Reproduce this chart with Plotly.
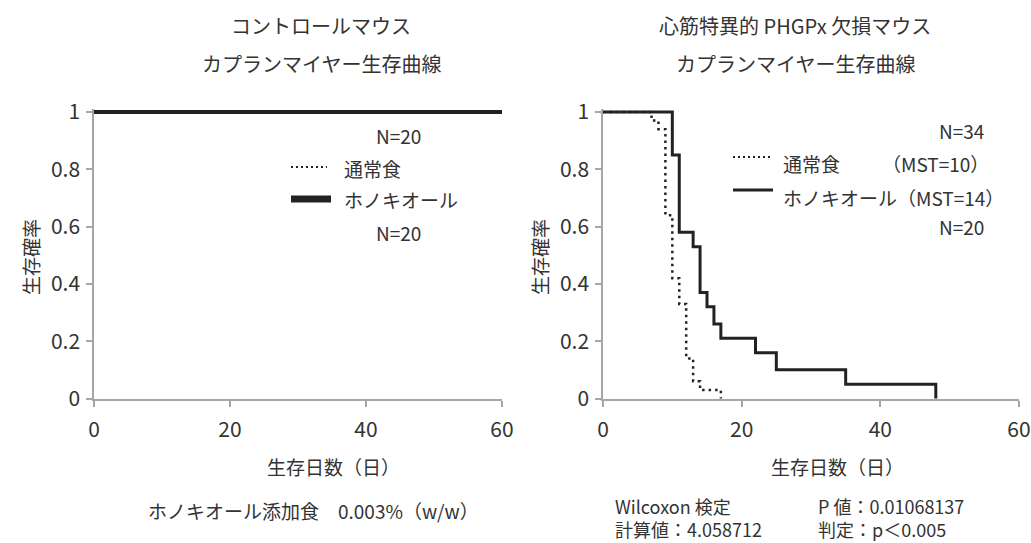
import plotly.graph_objects as go

# ---- data ----
ctrl_days = [0, 60]
ctrl_normal = [1.0, 1.0]
ctrl_honokiol = [1.0, 1.0]

ko_normal_days = [0, 7, 8, 9, 10, 11, 12, 13, 14, 17]
ko_normal_surv = [1.0, 0.97, 0.94, 0.64, 0.42, 0.33, 0.14, 0.06, 0.03, 0.0]

ko_hono_days = [0, 10, 11, 13, 14, 15, 16, 17, 22, 25, 35, 48]
ko_hono_surv = [1.0, 0.85, 0.58, 0.53, 0.37, 0.32, 0.26, 0.21, 0.16, 0.10, 0.05, 0.0]

y_ticks = [0, 0.2, 0.4, 0.6, 0.8, 1]
y_ticktext = ["0", "0.2", "0.4", "0.6", "0.8", "1"]
x_ticks = [0, 20, 40, 60]

W, H = 1031, 543
FONT = "Noto Sans CJK JP"
TXT = "#333333"
LINE = "#222222"
AX = "#a6a6a6"

def px(x):
    return x / W

def py(y):
    return 1 - y / H

fig = go.Figure()

# left (control)
fig.add_trace(go.Scatter(x=ctrl_days, y=ctrl_normal, mode="lines", line_shape="hv",
                         line=dict(color=LINE, width=2.5, dash="3px,4px"),
                         xaxis="x", yaxis="y", showlegend=False))
fig.add_trace(go.Scatter(x=ctrl_days, y=ctrl_honokiol, mode="lines", line_shape="hv",
                         line=dict(color=LINE, width=4),
                         xaxis="x", yaxis="y", showlegend=False))
# right (KO)
fig.add_trace(go.Scatter(x=ko_normal_days, y=ko_normal_surv, mode="lines", line_shape="hv",
                         line=dict(color=LINE, width=2.5, dash="2.5px,4px"),
                         xaxis="x2", yaxis="y2", showlegend=False))
fig.add_trace(go.Scatter(x=ko_hono_days, y=ko_hono_surv, mode="lines", line_shape="hv",
                         line=dict(color=LINE, width=3),
                         xaxis="x2", yaxis="y2", showlegend=False))

# y mapping: 0 -> 398.5px, 1 -> 112px
y0px, y1px = 398.5, 112.0
ppu = y0px - y1px
ylo, yhi = -0.003, 1.012
dom_bottom = py(y0px - ylo * ppu)
dom_top = py(y0px - yhi * ppu)

TICKSIZE = 21

xaxis_common = dict(range=[0, 60], tickvals=x_ticks, showline=True, linecolor=AX, linewidth=1.5,
                    ticks="outside", ticklen=6, tickcolor=AX, tickwidth=1.5, showgrid=False,
                    zeroline=False, ticklabelstandoff=5, automargin=False,
                    tickfont=dict(family=FONT, size=TICKSIZE, color=TXT))
yaxis_common = dict(range=[ylo, yhi], tickvals=y_ticks, ticktext=y_ticktext, showline=True,
                    linecolor=AX, linewidth=1.5, ticks="outside", ticklen=6, tickcolor=AX,
                    tickwidth=1.5, showgrid=False, zeroline=False, ticklabelstandoff=2,
                    domain=[dom_bottom, dom_top], automargin=False,
                    tickfont=dict(family=FONT, size=TICKSIZE, color=TXT))

fig.update_layout(
    width=W, height=H, margin=dict(l=0, r=0, t=0, b=0, autoexpand=False),
    paper_bgcolor="white", plot_bgcolor="white",
    xaxis=dict(domain=[px(94), px(502)], anchor="y", **xaxis_common),
    yaxis=dict(anchor="x", **yaxis_common),
    xaxis2=dict(domain=[px(603), px(1019)], anchor="y2", **xaxis_common),
    yaxis2=dict(anchor="x2", **yaxis_common),
    font=dict(family=FONT, color=TXT, size=19),
)

def ann(x, y, text, xanchor="center", size=19, angle=0, align="center", yanchor="middle"):
    fig.add_annotation(x=px(x), y=py(y), xref="paper", yref="paper", text=text,
                       showarrow=False, xanchor=xanchor, yanchor=yanchor, align=align,
                       borderpad=0, textangle=angle,
                       font=dict(family=FONT, size=size, color=TXT))

# titles
ann(321, 26, "コントロールマウス", size=20)
ann(321, 63, "カプランマイヤー生存曲線", size=20)
ann(795, 26, "心筋特異的 PHGPx 欠損マウス", size=20)
ann(795, 63, "カプランマイヤー生存曲線", size=20)

# axis titles
ann(333, 466, "生存日数（日）")
ann(837, 466, "生存日数（日）")
ann(30, 257, "生存確率", angle=-90)
ann(539, 257, "生存確率", angle=-90)

# left legend
ann(398, 135, "N=20")
ann(343, 168, "通常食", xanchor="left")
ann(343, 200, "ホノキオール", xanchor="left")
ann(398, 232, "N=20")
fig.add_shape(type="line", xref="paper", yref="paper", x0=px(291), x1=px(327), y0=py(167), y1=py(167),
              line=dict(color=LINE, width=2, dash="2px,3px"))
fig.add_shape(type="line", xref="paper", yref="paper", x0=px(291), x1=px(331), y0=py(199), y1=py(199),
              line=dict(color=LINE, width=7))

# right legend
ann(985, 130, "N=34", xanchor="right")
ann(782, 163, "通常食", xanchor="left")
ann(990, 163, "（MST=10）", xanchor="right")
ann(782, 197, "ホノキオール（MST=14）", xanchor="left")
ann(985, 227, "N=20", xanchor="right")
fig.add_shape(type="line", xref="paper", yref="paper", x0=px(733), x1=px(770), y0=py(157), y1=py(157),
              line=dict(color=LINE, width=2, dash="2px,3px"))
fig.add_shape(type="line", xref="paper", yref="paper", x0=px(733), x1=px(773), y0=py(190), y1=py(190),
              line=dict(color=LINE, width=3))

# bottom notes
ann(313, 510, "ホノキオール添加食　0.003%（w/w）")
ann(614, 543, "Wilcoxon 検定<br>計算値：4.058712", xanchor="left", size=18, align="left",
    yanchor="bottom")
ann(817, 543, "P 値：0.01068137<br>判定：p＜0.005", xanchor="left", size=18, align="left",
    yanchor="bottom")

fig.write_html(
    "out.html",
    config={"displayModeBar": False},
    post_script="document.body.style.margin='0';document.body.style.overflow='hidden';",
)
